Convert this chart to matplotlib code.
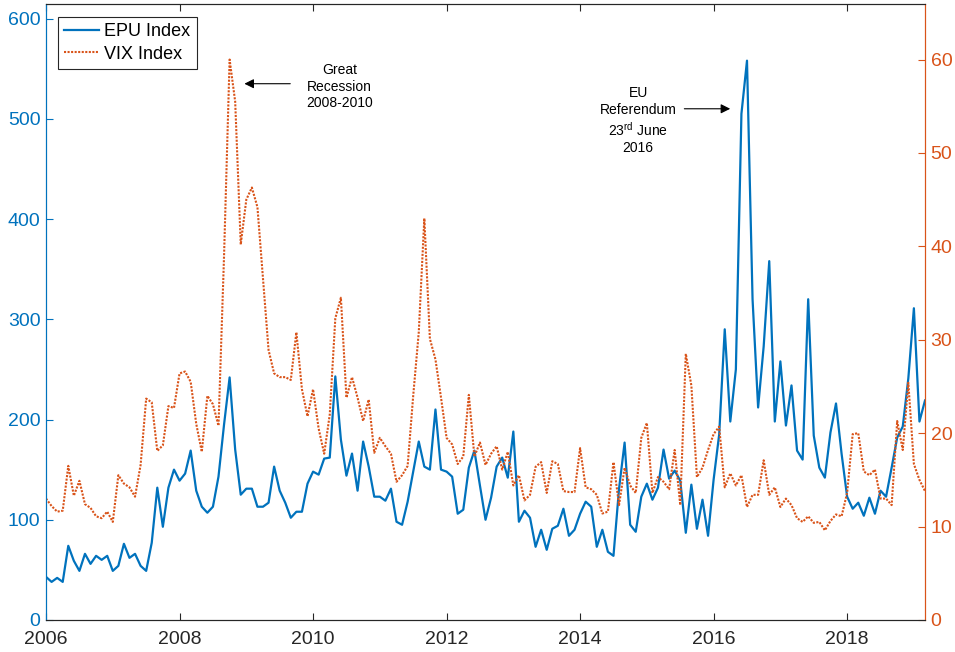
import numpy as np
import matplotlib
matplotlib.use("Agg")
from matplotlib import pyplot as plt

plt.rcParams['font.family'] = ['Liberation Sans', 'DejaVu Sans']
plt.rcParams['mathtext.fontset'] = 'custom'
plt.rcParams['mathtext.rm'] = 'Liberation Sans'

BLUE = '#0072BD'
ORANGE = '#D95319'
GREY = '#262626'

start_year = 2006

# monthly UK economic policy uncertainty index, Jan 2006 - Mar 2019
epu = [43, 38, 42, 38, 74, 59, 49, 66, 56, 64, 60, 64,
       49, 54, 76, 62, 66, 54, 49, 77, 132, 93, 132, 150,
       139, 146, 169, 129, 113, 107, 113, 143, 195, 242, 170, 125,
       131, 131, 113, 113, 117, 153, 129, 117, 102, 108, 108, 136,
       148, 145, 161, 162, 243, 180, 144, 166, 129, 178, 153, 123,
       123, 119, 131, 98, 95, 118, 148, 178, 153, 150, 210, 150,
       148, 143, 106, 110, 152, 169, 134, 100, 122, 153, 162, 142,
       188, 98, 109, 102, 73, 90, 70, 91, 94, 111, 84, 90,
       106, 118, 113, 73, 90, 68, 64, 131, 177, 95, 88, 123,
       136, 120, 132, 170, 141, 149, 139, 87, 135, 91, 120, 84,
       140, 185, 290, 198, 250, 505, 558, 320, 212, 273, 358, 198,
       258, 194, 234, 169, 160, 320, 184, 152, 142, 187, 216, 166,
       123, 111, 117, 104, 122, 106, 129, 123, 152, 182, 193, 241,
       311, 198, 219]

# month-end VIX close over the same months
vix = [13.0, 12.2, 11.6, 11.7, 16.5, 13.3, 14.9, 12.4, 12.0, 11.1, 10.9, 11.6,
       10.5, 15.5, 14.6, 14.2, 13.2, 16.6, 23.7, 23.3, 18.1, 18.7, 22.9, 22.7,
       26.4, 26.6, 25.5, 21.0, 18.0, 24.0, 23.1, 20.8, 39.0, 60.0, 55.5, 40.2,
       45.0, 46.3, 44.2, 36.6, 28.9, 26.4, 26.0, 26.0, 25.7, 30.8, 24.7, 21.8,
       24.7, 20.5, 17.8, 22.0, 32.3, 34.5, 23.8, 26.0, 23.8, 21.3, 23.6, 17.9,
       19.5, 18.6, 17.8, 14.8, 15.5, 16.5, 24.0, 30.8, 43.0, 30.1, 27.9, 23.8,
       19.5, 18.8, 16.7, 17.5, 24.1, 17.5, 19.0, 16.6, 17.8, 18.6, 16.1, 18.0,
       14.4, 15.5, 12.8, 13.4, 16.4, 16.9, 13.6, 17.0, 16.7, 13.8, 13.7, 13.7,
       18.4, 14.2, 14.0, 13.4, 11.4, 11.6, 16.9, 12.3, 16.3, 14.4, 13.6, 19.5,
       21.1, 13.6, 15.3, 14.8, 14.0, 18.2, 12.3, 28.5, 25.1, 15.3, 16.3, 18.2,
       19.9, 20.7, 14.2, 15.7, 14.4, 15.5, 12.1, 13.4, 13.4, 17.1, 13.4, 14.2,
       12.1, 13.0, 12.3, 10.9, 10.5, 11.1, 10.4, 10.5, 9.6, 10.6, 11.3, 11.1,
       13.6, 19.9, 20.0, 15.9, 15.5, 16.1, 13.0, 13.0, 12.3, 21.3, 18.2, 25.4,
       16.7, 15.0, 13.8]

year_ticks = [2006, 2008, 2010, 2012, 2014, 2016, 2018]
epu_ticks = [0, 100, 200, 300, 400, 500, 600]
vix_ticks = [0, 10, 20, 30, 40, 50, 60]

t = start_year + np.arange(len(epu)) / 12.0

fig = plt.figure(figsize=(9.55, 6.52), dpi=100)
ax = fig.add_axes([0.0482, 0.0491, 0.9204, 0.9455])
ax2 = ax.twinx()

l1, = ax.plot(t, epu, color=BLUE, lw=1.6, label='EPU Index')
l2, = ax2.plot(t, vix, color=ORANGE, lw=1.5, linestyle=(0, (1, 0.7)),
               label='VIX Index')

ax.set_xlim(t[0], t[-1])
ax.set_ylim(0, 615)
ax2.set_ylim(0, 66)
ax.set_xticks(year_ticks)
ax.set_yticks(epu_ticks)
ax2.set_yticks(vix_ticks)

ax.tick_params(axis='x', direction='in', top=True, length=5, width=0.8,
               colors=GREY, labelsize=14, pad=8)
ax.tick_params(axis='y', direction='in', length=5, width=0.8,
               colors=BLUE, labelsize=14, pad=4)
ax2.tick_params(axis='y', direction='in', length=5, width=0.8,
                colors=ORANGE, labelsize=14, pad=4)

for a in (ax, ax2):
    a.spines['top'].set_color(GREY)
    a.spines['bottom'].set_color(GREY)
    a.spines['left'].set_color(BLUE)
    a.spines['right'].set_color(ORANGE)
    for s in a.spines.values():
        s.set_linewidth(0.8)

leg = ax2.legend(handles=[l1, l2], loc='upper left',
                 bbox_to_anchor=(0.0137, 0.978), borderaxespad=0,
                 fontsize=13, fancybox=False, edgecolor=GREY,
                 framealpha=1, handlelength=1.9, handletextpad=0.3,
                 borderpad=0.35, labelspacing=0.3)
leg.get_frame().set_linewidth(0.8)

# event annotations
ax2.annotate('', xy=(2008.93, 535 * 66 / 615), xytext=(2009.70, 535 * 66 / 615),
             arrowprops=dict(arrowstyle='-|>', lw=0.8, color='black',
                             mutation_scale=14))
ax2.text(2010.40, 532 * 66 / 615, 'Great\nRecession\n2008-2010',
         ha='center', va='center', fontsize=10, linespacing=1.25)

ax2.annotate('', xy=(2016.29, 510 * 66 / 615), xytext=(2015.52, 510 * 66 / 615),
             arrowprops=dict(arrowstyle='-|>', lw=0.8, color='black',
                             mutation_scale=14))
ax2.text(2014.87, 498 * 66 / 615, 'EU\nReferendum\n23$^{\\rm rd}$ June\n2016',
         ha='center', va='center', fontsize=10, linespacing=1.25)

fig.savefig('out.png', dpi=100)
